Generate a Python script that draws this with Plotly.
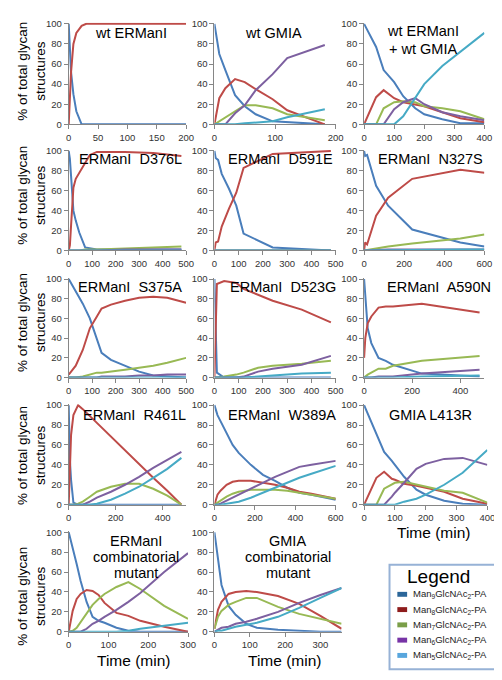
import plotly.graph_objects as go

W, H = 502, 680


def px(x):
    return x / W


def py(y):
    return 1 - y / H


# ---------------- data (percent of total glycan structures) ----------------
series_labels = ["Man<sub>9</sub>GlcNAc<sub>2</sub>-PA", "Man<sub>8</sub>GlcNAc<sub>2</sub>-PA",
                 "Man<sub>7</sub>GlcNAc<sub>2</sub>-PA", "Man<sub>6</sub>GlcNAc<sub>2</sub>-PA",
                 "Man<sub>5</sub>GlcNAc<sub>2</sub>-PA"]

# wt ERManI
wt_ermani_time = [0, 4, 8, 13, 22, 30, 60, 120, 200]
wt_ermani_man9 = [100, 52, 30, 13, 0, 0, 0, 0, 0]
wt_ermani_man8 = [0, 52, 80, 91, 98, 100, 100, 100, 100]

# wt GMIA
wt_gmia_time = [0, 8, 18, 34, 50, 68, 96, 120, 182]
wt_gmia_man9 = [100, 70, 54, 29, 18, 10, 3, 2, 0]
wt_gmia_man8 = [0, 26, 36, 45, 42, 35, 25, 14, 0]
wt_gmia_man7 = [0, 3, 7, 13, 19, 19, 16, 10, 4]
wt_gmia_man6 = [0, 0, 0, 11, 19, 34, 50, 66, 79]
wt_gmia_man5 = [0, 0, 0, 0, 1, 2, 3, 7, 15]

# wt ERManI + wt GMIA
wt_both_time = [0, 40, 65, 100, 130, 170, 200, 260, 320, 400]
wt_both_man9 = [100, 77, 54, 42, 28, 16, 10, 5, 1, 1]
wt_both_man8 = [0, 27, 34, 26, 22, 20, 18, 12, 6, 2]
wt_both_man7 = [0, 0, 16, 22, 23, 22, 18, 16, 13, 5]
wt_both_man6 = [0, 0, 0, 15, 22, 26, 20, 12, 8, 4]
wt_both_man5 = [0, 0, 0, 0, 8, 27, 40, 58, 72, 91]

# ERManI D376L
d376l_time = [0, 5, 10, 20, 30, 45, 70, 90, 120, 240, 360, 480]
d376l_man9 = [100, 92, 75, 40, 30, 18, 3, 2, 1, 1, 1, 1]
d376l_man8 = [0, 5, 25, 63, 72, 78, 89, 96, 99, 99, 98, 95]
d376l_man7 = [0, 0, 0, 0, 0, 0, 1, 1, 1, 2, 3, 4]
d376l_man6 = [0, 0, 0, 0, 0, 0, 0, 0, 0, 1, 1, 1]
d376l_man5 = [0, 0, 0, 0, 0, 0, 0, 0, 0, 0, 0, 0]

# ERManI D591E
d591e_time = [0, 5, 15, 30, 60, 90, 120, 240, 480]
d591e_man9 = [100, 93, 91, 77, 62, 45, 17, 3, 0]
d591e_man8 = [0, 8, 9, 24, 42, 58, 83, 97, 100]
d591e_man7 = [0, 0, 0, 0, 0, 0, 0, 0, 0]
d591e_man6 = [0, 0, 0, 0, 0, 0, 0, 0, 0]
d591e_man5 = [0, 0, 0, 0, 0, 0, 0, 0, 0]

# ERManI N327S
n327s_time = [0, 5, 15, 60, 120, 240, 480, 600]
n327s_man9 = [100, 95, 96, 65, 45, 21, 8, 4]
n327s_man8 = [0, 8, 6, 35, 53, 72, 81, 78]
n327s_man7 = [0, 0, 0.5, 2, 4, 7, 12, 16]
n327s_man6 = [0, 0, 0, 0.5, 1, 1, 1, 1]
n327s_man5 = [0, 0, 0, 0, 0.5, 0.5, 1, 1]

# ERManI S375A
s375a_time = [0, 30, 60, 90, 120, 140, 180, 240, 300, 360, 420, 500]
s375a_man9 = [100, 88, 75, 60, 39, 25, 18, 12, 6, 2, 1, 0]
s375a_man8 = [3, 12, 28, 50, 62, 70, 74, 78, 81, 82, 81, 76]
s375a_man7 = [0, 0, 1, 3, 5, 5, 6, 8, 10, 12, 15, 20]
s375a_man6 = [0, 0, 0, 0, 0, 1, 1, 1, 2, 2, 3, 3]
s375a_man5 = [0, 0, 0, 0, 0, 0, 0, 0, 0, 0, 0, 0]

# ERManI D523G
d523g_time = [0, 10, 40, 90, 120, 180, 240, 360, 480]
d523g_man9 = [100, 5, 0, 0, 0, 0, 0, 0, 0]
d523g_man8 = [0, 95, 98, 96, 90, 84, 78, 69, 56]
d523g_man7 = [0, 0, 1, 3, 5, 10, 12, 14, 17]
d523g_man6 = [0, 0, 0, 0, 1, 6, 9, 13, 22]
d523g_man5 = [0, 0, 0, 0, 0, 1, 2, 4, 5]

# ERManI A590N
a590n_time = [0, 5, 15, 30, 60, 90, 120, 240, 480]
a590n_man9 = [100, 82, 50, 35, 20, 17, 13, 4, 1]
a590n_man8 = [20, 40, 55, 62, 71, 72, 72, 75, 66]
a590n_man7 = [0, 1, 3, 5, 9, 9, 12, 17, 22]
a590n_man6 = [0, 0, 0, 0, 1, 1, 1, 4, 8]
a590n_man5 = [0, 0, 0, 0, 0, 0, 0, 1, 2]

# ERManI R461L
r461l_time = [0, 5, 10, 20, 40, 60, 90, 120, 180, 240, 300, 360, 420, 480]
r461l_man9 = [100, 45, 25, 2, 0, 0, 0, 0, 0, 0, 0, 0, 0, 0]
r461l_man8 = [0, 45, 70, 90, 100, 96, 89, 82, 68, 54, 41, 27, 14, 0]
r461l_man7 = [0, 0, 0, 0, 1, 3, 8, 13, 18, 21, 21, 16, 9, 0]
r461l_man6 = [0, 0, 0, 0, 0, 0, 3, 7, 13, 20, 28, 37, 45, 53]
r461l_man5 = [0, 0, 0, 0, 0, 0, 0, 1, 5, 11, 18, 27, 36, 47]

# ERManI W389A
w389a_time = [0, 15, 30, 60, 90, 120, 180, 240, 300, 360, 420, 480, 600]
w389a_man9 = [100, 90, 84, 72, 60, 52, 40, 30, 24, 17, 12, 10, 5]
w389a_man8 = [0, 10, 14, 20, 23, 24, 24, 22, 20, 17, 13, 11, 6]
w389a_man7 = [0, 2, 4, 8, 11, 13, 15, 15, 15, 14, 12, 10, 6]
w389a_man6 = [0, 0, 1, 4, 7, 10, 16, 22, 28, 33, 38, 40, 44]
w389a_man5 = [0, 0, 0, 1, 2, 3, 7, 12, 17, 22, 27, 31, 39]

# GMIA L413R
l413r_time = [0, 40, 65, 90, 100, 130, 170, 200, 260, 320, 400]
l413r_man9 = [100, 72, 53, 44, 40, 28, 15, 10, 4, 1, 0]
l413r_man8 = [0, 27, 33, 26, 25, 21, 19, 17, 13, 6, 1]
l413r_man7 = [0, 0, 16, 20, 22, 23, 20, 18, 14, 12, 2]
l413r_man6 = [0, 0, 0, 8, 12, 22, 36, 41, 46, 47, 40]
l413r_man5 = [0, 0, 0, 0, 0, 3, 6, 10, 20, 32, 55]

# ERManI combinatorial mutant
ermani_comb_time = [0, 10, 20, 30, 45, 60, 75, 90, 120, 150, 180, 240, 300]
ermani_comb_man9 = [100, 85, 68, 51, 30, 15, 11, 9, 4, 1, 0, 0, 0]
ermani_comb_man8 = [0, 21, 33, 38, 42, 41, 37, 29, 19, 16, 11, 5, 0]
ermani_comb_man7 = [0, 1, 4, 10, 18, 27, 33, 38, 45, 50, 43, 26, 13]
ermani_comb_man6 = [0, 0, 0, 0, 3, 8, 11, 15, 22, 30, 39, 60, 79]
ermani_comb_man5 = [0, 0, 0, 0, 0, 0, 0, 0, 0, 1, 3, 6, 9]

# GMIA combinatorial mutant
gmia_comb_time = [0, 10, 20, 40, 60, 90, 120, 180, 240, 300, 360]
gmia_comb_man9 = [100, 72, 47, 26, 17, 8, 4, 2, 1, 0, 0]
gmia_comb_man8 = [3, 22, 30, 38, 40, 41, 40, 36, 28, 16, 3]
gmia_comb_man7 = [3, 15, 21, 27, 30, 34, 34, 25, 18, 13, 8]
gmia_comb_man6 = [0, 2, 4, 5, 8, 10, 13, 20, 29, 37, 44]
gmia_comb_man5 = [0, 1, 1, 3, 5, 7, 9, 15, 24, 34, 44]

y_ticks = [0, 20, 40, 60, 80, 100]

# ---------------- styles ----------------
FONT = "Liberation Sans, Arial, sans-serif"
LINE_COLORS = ["#4a7ebb", "#be4b48", "#98b954", "#7d60a0", "#46aac5"]
LEGEND_COLORS = ["#2b6699", "#8e1c1c", "#7a9e48", "#7733a6", "#58a6dd"]
AXIS_COLOR = "#868686"
TICK_FONT = dict(family=FONT, size=9.5, color="#333333")

col_x0 = [59, 208, 361]
col_x1 = [179, 332, 484]
row_y0 = [113, 241, 370, 499, 628]     # pixel of y = 0
row_y100 = [11, 140, 270, 398, 527]    # pixel of y = 100

panels = [
    # title lines, title centre x, first line y, line step, time, series, xmax, dtick, row, col, x1 override
    (["wt ERManI"], 123, 20, 0, wt_ermani_time, [wt_ermani_man9, wt_ermani_man8], 200, 50, 0, 0, None),
    (["wt GMIA"], 268, 20, 0, wt_gmia_time,
     [wt_gmia_man9, wt_gmia_man8, wt_gmia_man7, wt_gmia_man6, wt_gmia_man5], 200, 100, 0, 1, None),
    (["wt ERManI", "+ wt GMIA"], 421, 18, 18.5, wt_both_time,
     [wt_both_man9, wt_both_man8, wt_both_man7, wt_both_man6, wt_both_man5], 400, 100, 0, 2, None),
    (["ERManI\u00a0 D376L"], 122, 148, 0, d376l_time,
     [d376l_man9, d376l_man8, d376l_man7, d376l_man6, d376l_man5], 500, 100, 1, 0, None),
    (["ERManI\u00a0 D591E"], 276, 148, 0, d591e_time,
     [d591e_man9, d591e_man8, d591e_man7, d591e_man6, d591e_man5], 500, 100, 1, 1, None),
    (["ERManI\u00a0 N327S"], 429, 148, 0, n327s_time,
     [n327s_man9, n327s_man8, n327s_man7, n327s_man6, n327s_man5], 600, 200, 1, 2, None),
    (["ERManI\u00a0 S375A"], 122, 278, 0, s375a_time,
     [s375a_man9, s375a_man8, s375a_man7, s375a_man6, s375a_man5], 500, 100, 2, 0, None),
    (["ERManI\u00a0 D523G"], 278, 278, 0, d523g_time,
     [d523g_man9, d523g_man8, d523g_man7, d523g_man6, d523g_man5], 500, 100, 2, 1, None),
    (["ERManI\u00a0 A590N"], 438, 278, 0, a590n_time,
     [a590n_man9, a590n_man8, a590n_man7, a590n_man6, a590n_man5], 500, 200, 2, 2, None),
    (["ERManI\u00a0 R461L"], 126, 408, 0, r461l_time,
     [r461l_man9, r461l_man8, r461l_man7, r461l_man6, r461l_man5], 500, 200, 3, 0, None),
    (["ERManI\u00a0 W389A"], 277, 408, 0, w389a_time,
     [w389a_man9, w389a_man8, w389a_man7, w389a_man6, w389a_man5], 600, 200, 3, 1, None),
    (["GMIA L413R"], 429, 408, 0, l413r_time,
     [l413r_man9, l413r_man8, l413r_man7, l413r_man6, l413r_man5], 400, 100, 3, 2, 487),
    (["ERManI", "combinatorial", "mutant"], 128, 536, 16, ermani_comb_time,
     [ermani_comb_man9, ermani_comb_man8, ermani_comb_man7, ermani_comb_man6, ermani_comb_man5],
     300, 100, 4, 0, 181),
    (["GMIA", "combinatorial", "mutant"], 283, 536, 16, gmia_comb_time,
     [gmia_comb_man9, gmia_comb_man8, gmia_comb_man7, gmia_comb_man6, gmia_comb_man5],
     360, 100, 4, 1, 338),
]

fig = go.Figure()
annotations = []
layout_axes = {}

for i, (title_lines, tcx, ty, tstep, t, series, xmax, dtick, r, c, x1o) in enumerate(panels):
    n = i + 1
    xa = "x" if n == 1 else f"x{n}"
    ya = "y" if n == 1 else f"y{n}"
    for k, vals in enumerate(series):
        fig.add_trace(go.Scatter(
            x=t, y=vals, mode="lines", xaxis=xa, yaxis=ya,
            line=dict(color=LINE_COLORS[k], width=2),
            name=series_labels[k], showlegend=False,
        ))
    x0 = col_x0[c]
    x1 = x1o if x1o else col_x1[c]
    layout_axes["xaxis" if n == 1 else f"xaxis{n}"] = dict(
        domain=[px(x0), px(x1)], range=[0, xmax], anchor=ya,
        tick0=0, dtick=dtick, showgrid=False, zeroline=False,
        showline=True, linecolor=AXIS_COLOR, linewidth=1,
        ticks="outside", ticklen=4, tickcolor=AXIS_COLOR, tickfont=TICK_FONT,
        fixedrange=True,
    )
    layout_axes["yaxis" if n == 1 else f"yaxis{n}"] = dict(
        domain=[py(row_y0[r]), py(row_y100[r] - 1)], range=[0, 101], anchor=xa,
        tickvals=y_ticks, showgrid=False, zeroline=False,
        showline=True, linecolor=AXIS_COLOR, linewidth=1,
        ticks="outside", ticklen=4, tickcolor=AXIS_COLOR, tickfont=TICK_FONT,
        fixedrange=True,
    )
    for j, line in enumerate(title_lines):
        annotations.append(dict(
            text=line, x=px(tcx), y=py(ty + j * tstep), xref="paper", yref="paper",
            xanchor="center", yanchor="middle", showarrow=False,
            font=dict(family=FONT, size=14.5, color="#000000"),
        ))

# y-axis titles (one per row)
ytitle_centres = [59, 185, 314, 449, 592]
for yc in ytitle_centres:
    annotations.append(dict(
        text="% of total glycan<br>structures", x=px(21), y=py(yc),
        xref="paper", yref="paper", xanchor="center", yanchor="middle",
        showarrow=False, textangle=-90,
        font=dict(family=FONT, size=13.5, color="#000000"),
    ))

# x-axis titles
for (xc, yc) in [(125, 657), (280, 657), (432, 527)]:
    annotations.append(dict(
        text="Time (min)", x=px(xc), y=py(yc), xref="paper", yref="paper",
        xanchor="center", yanchor="middle", showarrow=False,
        font=dict(family=FONT, size=15.5, color="#000000"),
    ))

# legend box
shapes = [dict(type="rect", xref="paper", yref="paper",
               x0=px(387), x1=px(500), y0=py(666), y1=py(560),
               line=dict(color="#97b2d6", width=2), fillcolor="white", layer="below")]
annotations.append(dict(
    text="Legend", x=px(437), y=py(572), xref="paper", yref="paper",
    xanchor="center", yanchor="middle", showarrow=False,
    font=dict(family=FONT, size=19, color="#000000"),
))
legend_y = [590, 605.5, 621, 636.5, 652]
for k, (lab, ly) in enumerate(zip(series_labels, legend_y)):
    shapes.append(dict(type="rect", xref="paper", yref="paper",
                       x0=px(395), x1=px(405), y0=py(ly + 2.5), y1=py(ly - 2.5),
                       line=dict(width=0), fillcolor=LEGEND_COLORS[k]))
    annotations.append(dict(
        text=lab, x=px(409), y=py(ly), xref="paper", yref="paper",
        xanchor="left", yanchor="middle", showarrow=False,
        font=dict(family=FONT, size=9.5, color="#222222"),
    ))

fig.update_layout(
    width=W, height=H, margin=dict(l=0, r=0, t=0, b=0),
    paper_bgcolor="white", plot_bgcolor="rgba(0,0,0,0)",
    showlegend=False, annotations=annotations, shapes=shapes,
    **layout_axes,
)

fig.write_html("out.html")
